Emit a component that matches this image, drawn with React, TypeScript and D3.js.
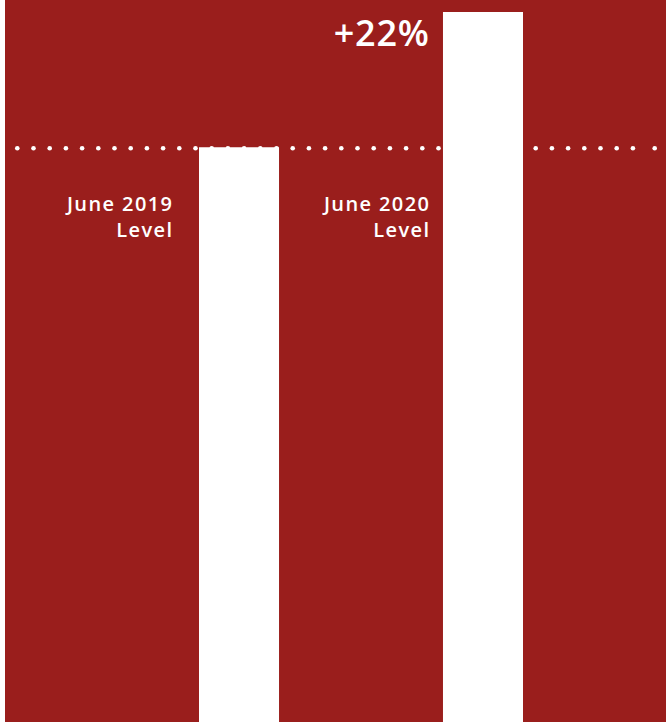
import React from "react";
import * as d3 from "d3";

const categories = ["June 2019", "June 2020"];
const values = [100, 122];
const labelSuffix = "Level";
const changeLabel = "+22%";
const referenceValue = 100;

const W = 666;
const H = 722;
const RED = "#9a1e1c";

export default function App() {
  const x = d3.scaleBand<string>().domain(categories).range([199, 523]).paddingInner(0.672).paddingOuter(0);
  const y = d3.scaleLinear().domain([0, 122]).range([762, 12]);

  const refY = y(referenceValue) + 1;
  const dotStep = 16.2;
  const dotStart = 17.3;
  const dots: number[] = d3.range(0, 39).map((i) => dotStart + i * dotStep);
  dots.push(654.7);

  const labelOffsets = [27, 14];
  const font = "'Open Sans', 'Noto Sans', sans-serif";
  const ls = 1.4;

  return (
    <svg width={W} height={H} style={{ position: "absolute", left: 0, top: 0, display: "block" }}>
      <rect x={0} y={0} width={W} height={H} fill="#ffffff" />
      <rect x={5} y={0} width={W - 5} height={H} fill={RED} />
      {categories.map((c, i) => (
        <rect key={c} x={x(c)} y={y(values[i])} width={x.bandwidth()} height={Math.max(0, H - y(values[i]))} fill="#ffffff" />
      ))}
      {dots.map((d, i) => (
        <circle key={i} cx={d} cy={refY} r={2.3} fill="#ffffff" />
      ))}
      {categories.map((c, i) => {
        const lx = (x(c) as number) - labelOffsets[i] + ls;
        return (
          <text key={c} x={lx} y={210.7} textAnchor="end" fill="#ffffff" fontFamily={font} fontWeight={600} fontSize={20} letterSpacing={ls}>
            <tspan x={lx}>{c}</tspan>
            <tspan x={lx} dy={26}>{labelSuffix}</tspan>
          </text>
        );
      })}
      <text x={(x(categories[1]) as number) - labelOffsets[1] + 0.8} y={45.7} textAnchor="end" fill="#ffffff" fontFamily={font} fontWeight={600} fontSize={36} letterSpacing={0.8}>
        {changeLabel}
      </text>
    </svg>
  );
}
